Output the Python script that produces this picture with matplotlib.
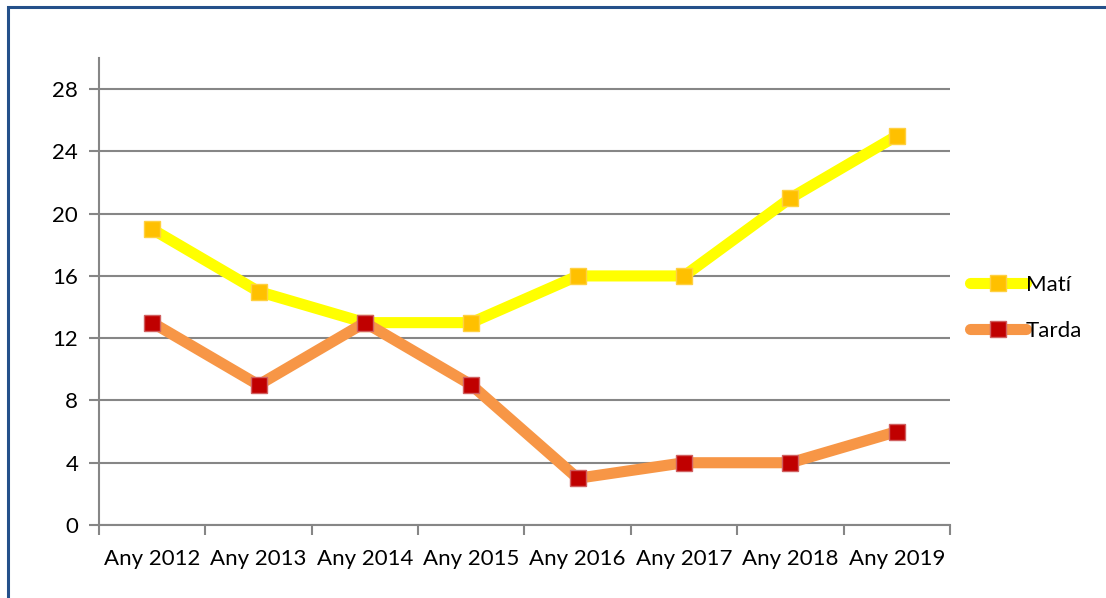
import matplotlib.pyplot as plt
from matplotlib.patches import Rectangle

# dades
anys = ['Any 2012', 'Any 2013', 'Any 2014', 'Any 2015',
        'Any 2016', 'Any 2017', 'Any 2018', 'Any 2019']
mati = [19, 15, 13, 13, 16, 16, 21, 25]
tarda = [13, 9, 13, 9, 3, 4, 4, 6]

plt.rcParams['font.family'] = ['Lato', 'DejaVu Sans']

W, H = 1106, 598
fig = plt.figure(figsize=(W / 100, H / 100), dpi=100)

# blue frame round the chart
fig.patches.append(Rectangle((8 / W, -0.05), 1.2, 1 - 7 / H + 0.05,
                             transform=fig.transFigure, fill=False,
                             edgecolor='#24508a', linewidth=2.2))

ax = fig.add_axes([99 / W, 73 / H, (950 - 99) / W, (525 - 58) / H])
x = list(range(len(anys)))

ax.plot(x, mati, color='#ffff00', lw=8, solid_capstyle='round',
        marker='s', ms=11, mfc='#ffc000', mec='#ffd040', mew=1, label='Matí', zorder=3)
ax.plot(x, tarda, color='#f79646', lw=8, solid_capstyle='round',
        marker='s', ms=11, mfc='#c00000', mec='#d06060', mew=1, label='Tarda', zorder=3)

ax.set_xlim(-0.5, len(anys) - 0.5)
ax.set_ylim(0, 30)
ax.set_yticks(range(0, 29, 4))
ax.set_xticks([i - 0.5 for i in range(len(anys) + 1)], minor=False)
ax.set_xticklabels([])
ax.set_xticks(x, minor=True)
ax.set_xticklabels(anys, minor=True)
ax.tick_params(axis='x', which='minor', length=0, pad=17, labelsize=16)
ax.tick_params(axis='x', which='major', length=7, width=1.5, color='#868686', direction='out')
ax.tick_params(axis='y', length=7, width=1.5, color='#868686', labelsize=16, pad=8)

ax.grid(axis='y', color='#868686', lw=1.5)
ax.set_axisbelow(True)
for s in ['top', 'right']:
    ax.spines[s].set_visible(False)
for s in ['left', 'bottom']:
    ax.spines[s].set_color('#868686')
    ax.spines[s].set_linewidth(1.5)

ax.legend(loc='center left', bbox_to_anchor=(1.0, 0.465), frameon=False,
          fontsize=16, handlelength=2.5, handletextpad=0.0, labelspacing=1.2,
          borderaxespad=0.5)

fig.savefig('out.png', dpi=100)
